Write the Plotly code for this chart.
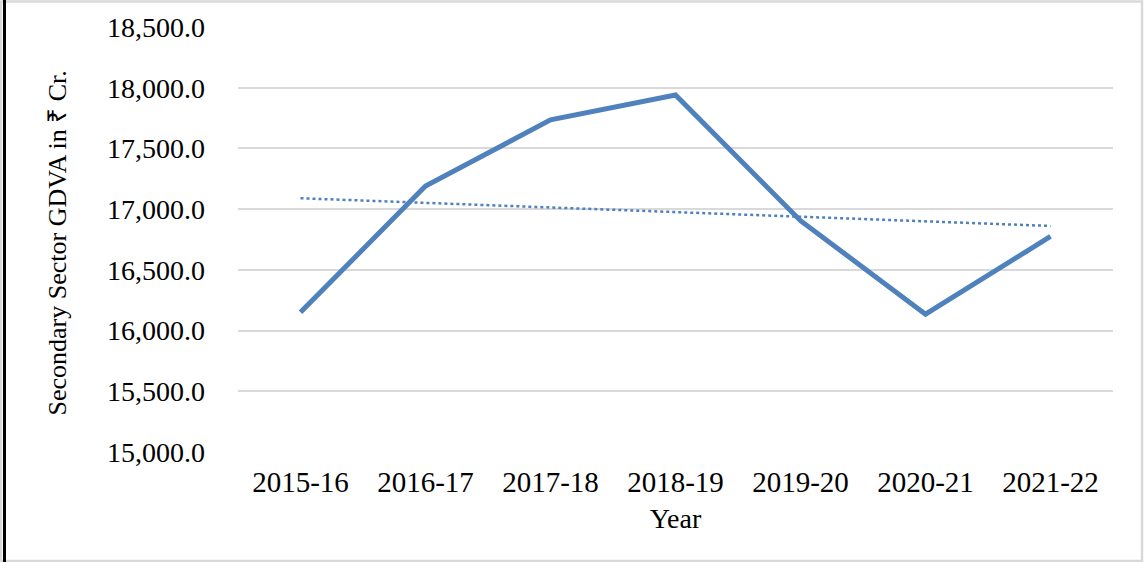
import numpy as np
import plotly.graph_objects as go

years = ["2015-16", "2016-17", "2017-18", "2018-19", "2019-20", "2020-21", "2021-22"]
gdva = [16150, 17190, 17735, 17940, 16905, 16135, 16775]

y_ticks = [15000, 15500, 16000, 16500, 17000, 17500, 18000, 18500]

# linear trendline (least squares) from the data
xi = np.arange(len(gdva))
slope, intercept = np.polyfit(xi, gdva, 1)
trend = list(slope * xi + intercept)

W, H = 1144, 562
L, R, T, B = 238, 31, 27, 110
pw, ph = W - L - R, H - T - B

def px_x(px):
    return (px - L) / pw

def px_y(py):
    return (H - B - py) / ph

FONT = "Liberation Serif"

fig = go.Figure()
fig.add_trace(go.Scatter(
    x=years, y=gdva, mode="lines",
    line=dict(color="#4F81BD", width=5),
    showlegend=False,
))
fig.add_trace(go.Scatter(
    x=years, y=trend, mode="lines",
    line=dict(color="#4F81BD", width=2.5, dash="dot"),
    showlegend=False,
))

fig.update_layout(
    width=W, height=H,
    margin=dict(l=L, r=R, t=T, b=B, autoexpand=False),
    paper_bgcolor="white", plot_bgcolor="white",
    font=dict(family=FONT, color="black", size=26),
    shapes=[
        dict(type="rect", xref="paper", yref="paper",
             x0=px_x(1), x1=px_x(1142), y0=px_y(561), y1=px_y(1.5),
             line=dict(color="#D9D9D9", width=2.5), layer="above"),
        dict(type="line", xref="paper", yref="paper",
             x0=px_x(4.5), x1=px_x(4.5), y0=px_y(562), y1=px_y(0),
             line=dict(color="black", width=3), layer="above"),
    ],
    annotations=[dict(
        text="Secondary Sector GDVA in ₹ Cr.", textangle=-90,
        xref="paper", yref="paper", x=px_x(57), y=px_y(243.5),
        xanchor="center", yanchor="middle", showarrow=False,
        font=dict(family=FONT, size=26, color="black"),
    )],
)
fig.update_xaxes(
    type="category", range=[-0.5, len(years) - 0.5], automargin=False,
    showgrid=False, showline=False, zeroline=False,
    tickfont=dict(family=FONT, size=29), ticklabelstandoff=10,
    title=dict(text="Year", font=dict(family=FONT, size=28), standoff=11),
)
fig.update_yaxes(
    range=[15000, 18500], tickvals=y_ticks, tickformat=",.1f", automargin=False,
    showgrid=True, gridcolor="#D9D9D9", gridwidth=2,
    showline=False, zeroline=False,
    tickfont=dict(family=FONT, size=28), ticklabelstandoff=32,
)

fig.write_html("out.html")
